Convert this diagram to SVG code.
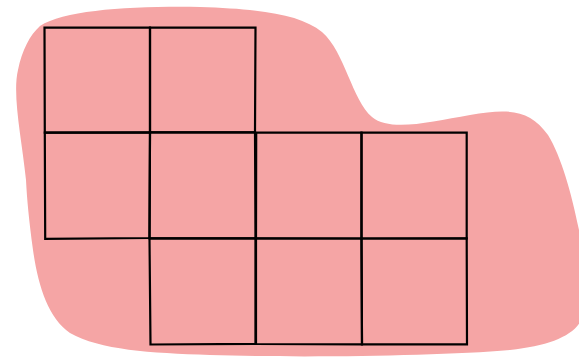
<svg xmlns="http://www.w3.org/2000/svg" width="579" height="358" viewBox="0 0 579 358">
<style>
.blob{fill:#F5A5A5;stroke:none}
.cell{fill:none;stroke:#000;stroke-width:2.2;stroke-linejoin:miter}
</style>
<rect width="579" height="358" fill="#fff"/>
<path class="blob" d="M 40,26 C 65,10 130,6 200,7 C 260,9 300,14 322,32 C 345,52 352,100 372,117 C 390,132 430,122 470,115 C 510,108 530,110 548,135 C 562,158 572,195 580,235 L 582,318 C 576,335 550,346 510,350 C 440,356 300,358 210,355 C 150,353 100,350 70,333 C 48,318 38,285 33,250 C 29,220 27,200 26,180 C 22,140 12,95 18,70 C 22,50 30,35 40,26 Z"/>
<g id="grid">
<g id="r1c1"><path class="cell" d="M 44.5,27.7 L 150,27.7 L 150,132.3 L 44.8,132.7 Z"/></g>
<g id="r1c2"><path class="cell" d="M 150,27.7 L 255.5,27.7 L 255,132.3 L 150,132.3 Z"/></g>
<g id="r2c1"><path class="cell" d="M 44.8,132.7 L 150,132.3 L 149.5,238 L 45.2,238.8 Z"/></g>
<g id="r2c2"><path class="cell" d="M 150,132.3 L 255,132.3 L 255.5,238.3 L 149.5,238.3 Z"/></g>
<g id="r2c3"><path class="cell" d="M 256.2,132.6 L 361.5,132.6 L 361.5,238.5 L 256,238.3 Z"/></g>
<g id="r2c4"><path class="cell" d="M 361.5,132.6 L 466.7,132.6 L 466.7,238.3 L 361.5,238.5 Z"/></g>
<g id="r3c1"><path class="cell" d="M 149.5,238.3 L 255.5,238.3 L 255.5,343.8 L 150.5,344.5 Z"/></g>
<g id="r3c2"><path class="cell" d="M 256,238.3 L 361.5,238.5 L 362,344.3 L 256,344 Z"/></g>
<g id="r3c3"><path class="cell" d="M 361.5,238.5 L 466.7,238.3 L 467,344.3 L 362,344.3 Z"/></g>
</g>
</svg>
